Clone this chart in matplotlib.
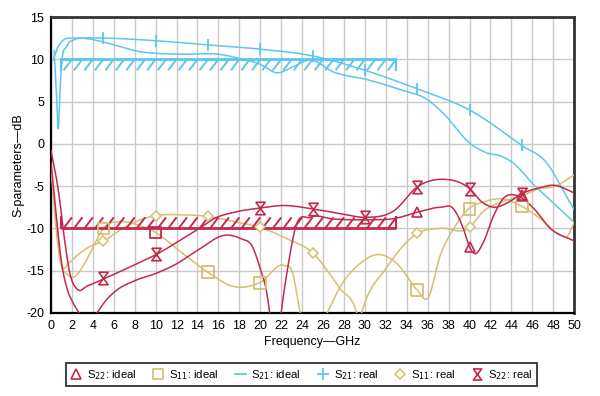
import numpy as np
import matplotlib
matplotlib.use("Agg")
import matplotlib.pyplot as plt
from matplotlib.lines import Line2D
from matplotlib.collections import LineCollection

plt.rcParams['font.family'] = ['Liberation Sans', 'DejaVu Sans']
plt.rcParams['axes.unicode_minus'] = False

# colours
BLUE = '#5cc6ef'
RED = '#c42a4c'
KHAKI = '#d4bf72'

# --- S21 ideal (line only)
s21_ideal_x = [0.2, 0.6, 1.2, 2, 3, 4.5, 6, 8.5, 10, 13, 16, 18, 20, 21.6, 23.1, 24.8,
               27, 30.2, 33.4, 36, 37.5, 40, 41.7, 42.9, 44.2, 46.1, 48, 50]
s21_ideal_y = [9.9, 11.3, 12.3, 12.5, 12.5, 12.2, 11.7, 10.9, 10.7, 10.6, 10.6, 10.1, 9.4, 8.4, 9.1, 9.9,
               8.5, 7.6, 6.4, 5.2, 3.6, 0.1, -1.1, -1.4, -2.3, -4.8, -7.0, -9.3]

# --- S21 real ('+')
s21_real_x = [0.3, 0.5, 0.7, 0.85, 1.0, 1.5, 2.2, 3.1, 5, 10, 15, 20, 25, 30, 35, 40, 45, 47.4, 49.3, 50]
s21_real_y = [11.0, 6.5, 1.8, 6.0, 9.1, 11.5, 12.3, 12.5, 12.5, 12.2, 11.7, 11.2, 10.4, 8.7, 6.5, 4.0, -0.2,
              -2.3, -6.3, -7.8]
s21_real_mx = [5, 10, 15, 20, 25, 30, 35, 40, 45]
s21_real_my = [12.5, 12.2, 11.7, 11.2, 10.4, 8.7, 6.5, 4.0, -0.2]

# --- S11 ideal (squares)
s11_ideal_x = [0, 0.4, 0.9, 1.5, 2.1, 3, 4, 5, 6.5, 8, 10, 12.5, 15, 17.5, 20, 22.3, 23.1, 23.8, 24.9,
               26.4, 27.6, 29.5, 31.3, 33, 35, 36, 37.2, 38.5, 40, 41.3, 42.9, 45, 46.7, 48.7, 49.3, 50]
s11_ideal_y = [-2.8, -9, -14, -15.4, -15.8, -14.6, -12.3, -10.0, -9.2, -9.5, -10.5, -12.9, -15.2, -16.9,
               -16.4, -14.4, -15.3, -19.9, -23.5, -20, -17, -14.2, -13.1, -14.1, -17.3, -18.3, -13.2,
               -10, -7.6, -6.9, -6.5, -7.4, -8.8, -10.8, -11.0, -9.3]
s11_ideal_mx = [5, 10, 15, 20, 35, 40, 45]
s11_ideal_my = [-10.0, -10.5, -15.2, -16.5, -17.3, -7.7, -7.4]
s11_ideal_mc = [KHAKI, RED, KHAKI, KHAKI, KHAKI, KHAKI, KHAKI]

# --- S11 real (diamonds)
s11_real_x = [0, 0.4, 0.8, 1.1, 1.6, 2.5, 3.5, 5, 7, 8.5, 10, 12.5, 15, 17.5, 20, 22.5, 25, 27.6, 29.2,
              29.45, 29.7, 32.1, 35, 37.2, 40, 41.3, 42.2, 43.6, 45.5, 46.7, 48, 50]
s11_real_y = [-2.8, -8, -13, -14.6, -14.2, -13.2, -12.3, -11.5, -9.9, -9.0, -8.5, -8.4, -8.6, -9.2, -9.9,
              -11.2, -12.9, -17.1, -19.9, -21, -19.9, -14.6, -10.6, -10.0, -9.9, -8.0, -7.3, -6.7,
              -5.9, -5.3, -5.1, -3.7]
s11_real_mx = [5, 10, 15, 20, 25, 35, 40]
s11_real_my = [-11.5, -8.5, -8.6, -9.9, -12.9, -10.6, -9.8]

# --- S22 ideal (triangles)
s22_ideal_x = [0, 0.5, 1.0, 1.5, 2.1, 2.8, 3.6, 4.4, 5.2, 6.3, 8, 10.1, 12, 14, 16.8, 18.1, 19.3, 20,
               20.6, 20.9, 21.5, 22, 22.7, 23.3, 24.8, 27, 30, 33, 35, 37.3, 38.4, 39.4, 40, 40.5,
               41.3, 42.3, 43.2, 44.5, 46.1, 47.7, 50]
s22_ideal_y = [-2.2, -8.5, -14, -17, -18.8, -20.2, -21.5, -20, -18.6, -17.3, -16.2, -15.3, -14.2, -12.6,
               -10.8, -11.2, -12.3, -14.8, -17.5, -20, -26, -20, -14.1, -10.2, -8.7, -8.9, -9.0, -8.8,
               -8.1, -7.5, -7.6, -10, -12.2, -13, -11.7, -8.5, -6.5, -6.1, -7.6, -10, -11.5]
s22_ideal_mx = [35, 40, 45]
s22_ideal_my = [-8.1, -12.2, -6.1]

# --- S22 real (hourglass)
s22_real_x = [0, 0.7, 1.3, 1.8, 2.5, 3.5, 5.2, 7.5, 10.2, 12.5, 14.2, 15.5, 17.5, 20, 22.2, 25, 27.8, 30,
              32.8, 35, 37.5, 40, 41.2, 42.3, 43.6, 45, 46.7, 48, 50]
s22_real_y = [-0.8, -5.5, -11.4, -15.3, -17.2, -16.8, -15.9, -14.6, -13.0, -11.3, -10.0, -8.9, -8.1, -7.6,
              -7.3, -7.7, -8.3, -8.7, -7.9, -5.1, -4.2, -5.3, -6.9, -7.5, -7.0, -5.9, -5.2, -4.9, -5.8]
s22_real_mx = [5, 10, 20, 25, 30, 35, 40, 45]
s22_real_my = [-15.9, -13.0, -7.6, -7.7, -8.7, -5.1, -5.3, -5.9]

# spec masks: (start, stop, level)
s21_spec = (1, 33, 10)
s11_spec = (1, 33, -10)

xticks = list(range(0, 51, 2))
yticks = list(range(-20, 16, 5))

HOURGLASS = [(-0.75, 1), (0.75, 1), (-0.75, -1), (0.75, -1), (-0.75, 1)]


def smooth(x, y, n=30):
    x = np.asarray(x, float)
    y = np.asarray(y, float)
    m = np.gradient(y, x)
    t = np.linspace(0, 1, n, endpoint=False)
    h00 = 2 * t**3 - 3 * t**2 + 1
    h10 = t**3 - 2 * t**2 + t
    h01 = -2 * t**3 + 3 * t**2
    h11 = t**3 - t**2
    xs, ys = [], []
    for i in range(len(x) - 1):
        h = x[i + 1] - x[i]
        xs.append(x[i] + t * h)
        ys.append(h00 * y[i] + h10 * h * m[i] + h01 * y[i + 1] + h11 * h * m[i + 1])
    xs.append([x[-1]])
    ys.append([y[-1]])
    return np.concatenate(xs), np.concatenate(ys)


def spec(ax, start, stop, level, depth, color):
    ax.plot([start, stop], [level, level], color=color, lw=2, solid_capstyle='butt', zorder=4)
    ax.plot([start, start], [level, level + depth], color=color, lw=1.5, zorder=4)
    ax.plot([stop, stop], [level, level + depth], color=color, lw=1.5, zorder=4)
    segs = []
    lo, hi = (level, level + depth) if depth > 0 else (level + depth, level)
    for xs in np.arange(start + 0.2, stop - 0.2, 1.0):
        segs.append([(xs, lo), (min(xs + 0.8, stop), hi)])
    ax.add_collection(LineCollection(segs, colors=color, linewidths=1.4, zorder=4))


fig = plt.figure(figsize=(6, 3.96), dpi=100)
ax = fig.add_axes([0.085, 0.21, 0.872, 0.747])

ax.plot(*smooth(s21_ideal_x, s21_ideal_y), color=BLUE, lw=1.1, zorder=3)
ax.plot(*smooth(s21_real_x, s21_real_y), color=BLUE, lw=1.1, zorder=3)
ax.plot(s21_real_mx, s21_real_my, ls='none', marker='|', ms=9, mew=1.3, color=BLUE, zorder=5)

ax.plot(*smooth(s11_ideal_x, s11_ideal_y), color=KHAKI, lw=1.1, zorder=3)
ax.scatter(s11_ideal_mx, s11_ideal_my, marker='s', s=70, facecolors='none',
           edgecolors=s11_ideal_mc, linewidths=1.3, zorder=5)
ax.plot(*smooth(s11_real_x, s11_real_y), color=KHAKI, lw=1.1, zorder=3)
ax.plot(s11_real_mx, s11_real_my, ls='none', marker='D', ms=5.5, mfc='white', mec=KHAKI, mew=1.1, zorder=5)

ax.plot(*smooth(s22_ideal_x, s22_ideal_y), color=RED, lw=1.1, zorder=3)
ax.plot(s22_ideal_mx, s22_ideal_my, ls='none', marker='^', ms=7, mfc='none', mec=RED, mew=1.2, zorder=5)
ax.plot(*smooth(s22_real_x, s22_real_y), color=RED, lw=1.1, zorder=3)
ax.plot(s22_real_mx, s22_real_my, ls='none', marker=HOURGLASS, ms=9, mfc='none', mec=RED, mew=1.2, zorder=5)

spec(ax, *s21_spec, -1.3, BLUE)
spec(ax, *s11_spec, 1.3, RED)

ax.set_xlim(0, 50)
ax.set_ylim(-20, 15)
ax.set_xticks(xticks)
ax.set_yticks(yticks)
ax.grid(True, color='#c9c9c9', lw=1)
ax.set_axisbelow(True)
ax.tick_params(length=0, labelsize=9, pad=5)
for side in ['left', 'bottom']:
    ax.spines[side].set_linewidth(1.6)
    ax.spines[side].set_color('black')
for side in ['top', 'right']:
    ax.spines[side].set_linewidth(2)
    ax.spines[side].set_color('#333333')
ax.set_xlabel('Frequency\u2014GHz', fontsize=9, labelpad=3)
ax.set_ylabel('S-parameters\u2014dB', fontsize=9, labelpad=1)

handles = [
    Line2D([], [], ls='none', marker='^', ms=6.5, mfc='none', mec=RED, mew=1.2),
    Line2D([], [], ls='none', marker='s', ms=7.5, mfc='none', mec=KHAKI, mew=1.2),
    Line2D([], [], color=BLUE, lw=1.3),
    Line2D([], [], ls='none', marker='+', ms=8, mew=1.3, color=BLUE),
    Line2D([], [], ls='none', marker='D', ms=5.5, mfc='none', mec=KHAKI, mew=1.1),
    Line2D([], [], ls='none', marker=HOURGLASS, ms=8, mfc='none', mec=RED, mew=1.2),
]
labels = ['S$_{22}$: ideal', 'S$_{11}$: ideal', 'S$_{21}$: ideal',
          'S$_{21}$: real', 'S$_{11}$: real', 'S$_{22}$: real']
leg = fig.legend(handles, labels, loc='center', bbox_to_anchor=(0.503, 0.054), ncol=6,
                 fontsize=8.2, frameon=True, fancybox=False, handlelength=0.9,
                 handletextpad=0.5, columnspacing=1.45, borderpad=0.4)
leg.get_frame().set_edgecolor('black')
leg.get_frame().set_linewidth(1.3)

fig.savefig('out.png', dpi=100)
